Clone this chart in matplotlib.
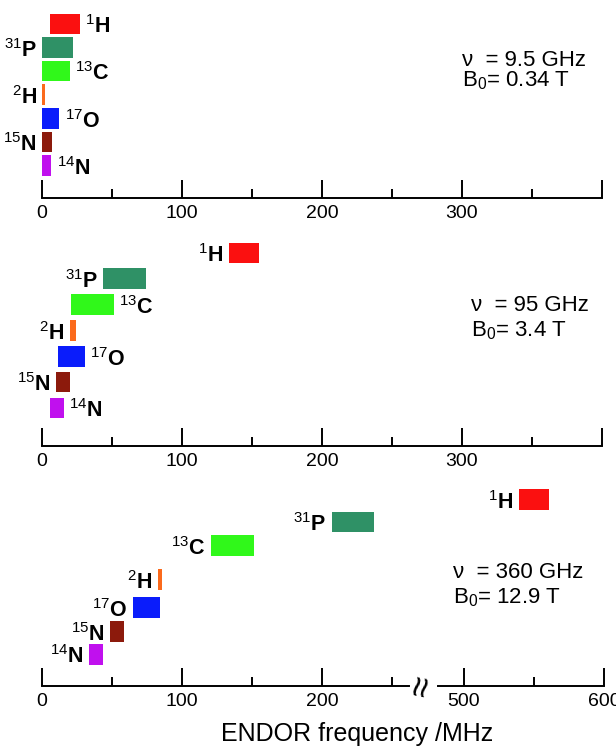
# ENDOR frequency ranges of common nuclei at three EPR frequencies
import matplotlib
matplotlib.use("Agg")
import matplotlib.pyplot as plt
from matplotlib.ticker import FixedLocator

plt.rcParams["font.family"] = ["Liberation Sans", "DejaVu Sans"]
plt.rcParams["mathtext.fontset"] = "custom"
plt.rcParams["mathtext.rm"] = "Liberation Sans"
plt.rcParams["mathtext.bf"] = "Liberation Sans:bold"
plt.rcParams["mathtext.it"] = "Liberation Sans:italic"

# nuclei, top to bottom
masses = [1, 31, 13, 2, 17, 15, 14]
elements = ["H", "P", "C", "H", "O", "N", "N"]
colors = ["#fb1010", "#2f9166", "#30f81a", "#fb6a1c", "#0a1cfb", "#8c1a0c", "#c010ee"]

# ENDOR ranges (MHz)
x9_lo = [5.7, 0.3, 0.3, 0.3, 0.3, 0.3, 0.3]
x9_hi = [27.1, 21.9, 19.8, 2.4, 12.4, 7.3, 6.7]
x95_lo = [133.4, 43.8, 20.9, 20.0, 11.5, 10.0, 5.7]
x95_hi = [155.0, 74.1, 51.2, 24.0, 30.5, 20.0, 15.5]
x360_lo = [539.6, 207.0, 120.6, 82.6, 65.0, 48.4, 33.9]
x360_hi = [561.0, 237.4, 151.2, 86.0, 84.3, 58.4, 43.9]

# which side the label goes on (r = right, l = left)
side9 = ["r", "l", "r", "l", "r", "l", "r"]
side95 = ["l", "l", "r", "l", "r", "l", "r"]
side360 = ["l", "l", "l", "l", "l", "l", "l"]

freq_text = ["\u03bd  = 9.5 GHz", "\u03bd  = 95 GHz", "\u03bd  = 360 GHz"]
field_text = [r"B$_0$= 0.34 T", r"B$_0$= 3.4 T", r"B$_0$= 12.9 T"]

W, H = 616, 747
fig = plt.figure(figsize=(W / 100, H / 100), dpi=100)


def px_axes(x0, x1, ytop, ybot):
    return fig.add_axes([x0 / W, 1 - ybot / H, (x1 - x0) / W, (ybot - ytop) / H])


def style_axis(ax, xlim, majors, labels, minors, ylim):
    ax.set_xlim(*xlim)
    ax.set_ylim(*ylim)
    for s in ["top", "left", "right"]:
        ax.spines[s].set_visible(False)
    ax.spines["bottom"].set_linewidth(1.4)
    ax.set_yticks([])
    ax.xaxis.set_major_locator(FixedLocator(majors))
    ax.set_xticklabels(labels)
    ax.xaxis.set_minor_locator(FixedLocator(minors))
    ax.tick_params(axis="x", which="major", direction="in", length=13, width=1.4,
                   pad=5, labelsize=14)
    ax.tick_params(axis="x", which="minor", direction="in", length=6.5, width=1.4)
    ax.patch.set_alpha(0)


def draw_bars(axes_list, rows, lo, hi, sides, bar_h):
    for i in range(len(masses)):
        # pick the axes segment that holds this bar
        ax = axes_list[0]
        for a in axes_list:
            if a.get_xlim()[0] <= lo[i] <= a.get_xlim()[1]:
                ax = a
        ax.barh(rows[i], hi[i] - lo[i], left=lo[i], height=bar_h, color=colors[i],
                edgecolor="none")
        lab = r"$^{%d}\mathbf{%s}$" % (masses[i], elements[i])
        if sides[i] == "r":
            ax.annotate(lab, (hi[i], rows[i]), xytext=(4, -2), textcoords="offset points",
                        ha="left", va="center", fontsize=15.5, annotation_clip=False)
        else:
            ax.annotate(lab, (lo[i], rows[i]), xytext=(-4, -2), textcoords="offset points",
                        ha="right", va="center", fontsize=15.5, annotation_clip=False)


# ---- panel 1: 9.5 GHz
u = 23.58
rows1 = [0, 1, 2, 3, 4, 5, 6]
ax1 = px_axes(42, 602, 0, 198)
style_axis(ax1, (0, 400), [0, 100, 200, 300, 400], ["0", "100", "200", "300", ""],
           [50, 150, 250, 350], ((198 - 24) / u, -24 / u))
draw_bars([ax1], rows1, x9_lo, x9_hi, side9, 20.6 / u)

# ---- panel 2: 95 GHz
u = 25.87
rows2 = [0, 1, 2, 3, 4, 5, 6]
ax2 = px_axes(42, 602, 225, 446)
style_axis(ax2, (0, 400), [0, 100, 200, 300, 400], ["0", "100", "200", "300", ""],
           [50, 150, 250, 350], ((446 - 252.8) / u, (225 - 252.8) / u))
draw_bars([ax2], rows2, x95_lo, x95_hi, side95, 20.6 / u)

# ---- panel 3: 360 GHz, broken axis
u = 25.0
rows3 = [0, 0.89, 1.83, 3.19, 4.32, 5.28, 6.18]
ylim3 = ((685.7 - 499.7) / u, (470 - 499.7) / u)
ax3a = px_axes(42, 408.8, 470, 685.7)
style_axis(ax3a, (0, 262), [0, 100, 200], ["0", "100", "200"], [50, 150, 250], ylim3)
ax3b = px_axes(438.3, 604, 470, 685.7)
style_axis(ax3b, (482, 600), [500, 600], ["500", "600"], [550], ylim3)
draw_bars([ax3a, ax3b], rows3, x360_lo, x360_hi, side360, 20.6 / u)

# break mark
fig.text(424 / W, 1 - 686 / H, "\u2248", rotation=78, fontsize=27,
         ha="center", va="center")

# field / frequency notes
note_x = [461.7, 470.7, 453.3]
note_y1 = [66, 310.7, 578]
note_y2 = [86.7, 336.7, 603]
for k in range(3):
    fig.text(note_x[k] / W, 1 - note_y1[k] / H, freq_text[k], fontsize=16,
             ha="left", va="baseline")
    fig.text(note_x[k] / W, 1 - note_y2[k] / H, field_text[k], fontsize=16,
             ha="left", va="baseline")

fig.text(357 / W, 1 - 734 / H, "ENDOR frequency /MHz", fontsize=18,
         ha="center", va="center")

fig.savefig("out.png", dpi=100)
